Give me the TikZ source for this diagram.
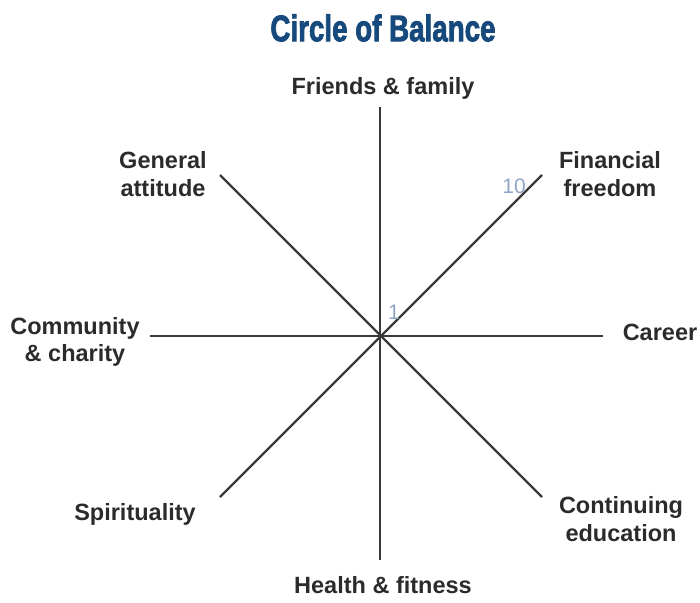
\documentclass[tikz,border=0pt]{standalone}
\usepackage{fontspec}
\setmainfont{Liberation Sans}
\newfontfamily\titlefont[FakeBold=2.5]{Liberation Sans Bold}
\usepackage{graphicx}
\definecolor{titleblue}{HTML}{174A7C}
\definecolor{labelgray}{HTML}{2B2B2B}
\definecolor{linegray}{HTML}{3A3A3A}
\definecolor{numblue}{HTML}{8EA6C6}
\tikzset{
  axis/.style={draw=linegray, line width=2.2pt},
  lbl/.style={text=labelgray, font=\fontsize{23.5}{27.5}\selectfont\bfseries, align=center, inner sep=0pt},
  num/.style={text=numblue, font=\fontsize{21}{24}\selectfont, inner sep=0pt},
  ttl/.style={text=titleblue, font=\fontsize{37}{40}\selectfont\titlefont, inner sep=0pt}
}
\begin{document}
\begin{tikzpicture}[x=1pt,y=-1pt]
\useasboundingbox (0,0) rectangle (700,602);
\node[ttl] (title) at (383,28) {\scalebox{0.75}[1]{Circle of Balance}};
\coordinate (c) at (380,336);
\coordinate (n) at (380,107);
\coordinate (s) at (380,560);
\coordinate (w) at (150,336);
\coordinate (e) at (603,336);
\coordinate (nw) at (220,175);
\coordinate (se) at (542,497);
\coordinate (ne) at (542,175);
\coordinate (sw) at (220,497);
\draw[axis] (n) -- (s);
\draw[axis] (w) -- (e);
\draw[axis] (nw) -- (se);
\draw[axis] (ne) -- (sw);
\node[lbl] (friends) at (383,88) {Friends \& family};
\node[lbl] (general) at (163,174) {General\\attitude};
\node[lbl] (financial) at (610,174) {Financial\\freedom};
\node[lbl] (community) at (75,342) {Community\\\& charity};
\node[lbl] (career) at (660,332) {Career};
\node[lbl] (spirit) at (135,514) {Spirituality};
\node[lbl] (contin) at (621,519) {Continuing\\education};
\node[lbl] (health) at (383,585) {Health \& fitness};
\node[num] (ten) at (514,186) {10};
\node[num] (one) at (394,312) {1};
\end{tikzpicture}
\end{document}
